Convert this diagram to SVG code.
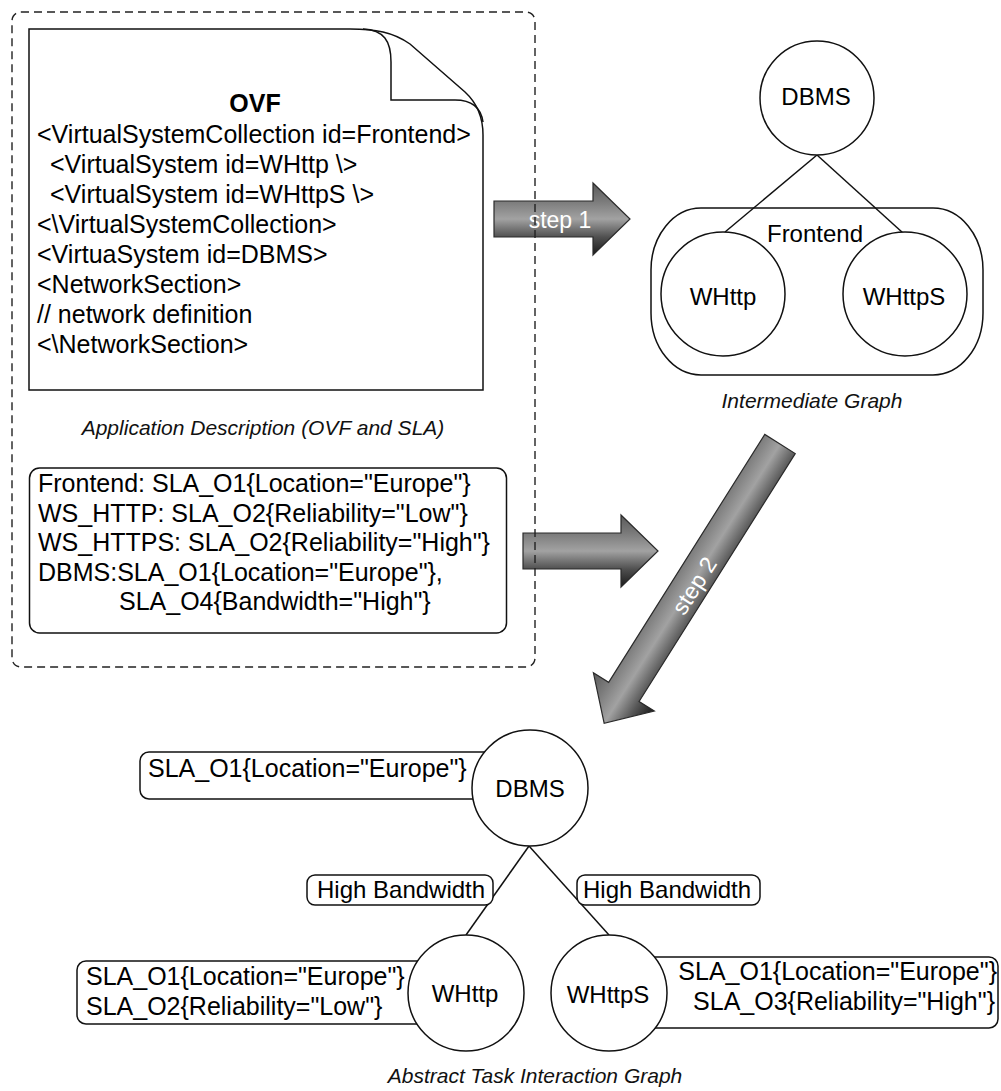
<svg xmlns="http://www.w3.org/2000/svg" width="1001" height="1091" viewBox="0 0 1001 1091">
  <style>
    text { font-family: "Liberation Sans", Arial, Helvetica, sans-serif; fill: #000; }
    .t25 { font-size: 25px; }
    .t24 { font-size: 24px; }
    .mid { text-anchor: middle; }
    .cap { font-size: 21px; font-style: italic; text-anchor: middle; fill: #111; }
    .shape { fill: #fff; stroke: #111; stroke-width: 1.5; }
    .edge { fill: none; stroke: #111; stroke-width: 1.5; }
    .frame { fill: none; stroke: #222; stroke-width: 1.4; stroke-dasharray: 8 5; }
    .step { fill: url(#steel); stroke: #2a2a2a; stroke-width: 1.2; }
    .step.flip { fill: url(#steel-flip); }
    .steplabel { font-size: 23px; fill: #fff; text-anchor: middle; }
  </style>
  <defs>
    <linearGradient id="steel" x1="0" y1="0" x2="0" y2="1">
      <stop offset="0" stop-color="#5a5a5a"/>
      <stop offset="0.25" stop-color="#7a7a7a"/>
      <stop offset="0.5" stop-color="#a2a2a2"/>
      <stop offset="0.75" stop-color="#505050"/>
      <stop offset="1" stop-color="#1a1a1a"/>
    </linearGradient>
    <!-- same shading, mirrored across the arrow axis -->
    <linearGradient id="steel-flip" x1="0" y1="1" x2="0" y2="0">
      <stop offset="0" stop-color="#5a5a5a"/>
      <stop offset="0.25" stop-color="#7c7c7c"/>
      <stop offset="0.5" stop-color="#a2a2a2"/>
      <stop offset="0.75" stop-color="#585858"/>
      <stop offset="1" stop-color="#1a1a1a"/>
    </linearGradient>
  </defs>

  <rect width="1001" height="1091" fill="#fff"/>

  <!-- transformation arrows -->
  <g id="steps">
    <g id="step1" transform="translate(494,219)">
      <path class="step" d="M0,-18 H99 V-36 L136,0 L99,36 V18 H0 Z"/>
      <text class="steplabel" x="66" y="9">step 1</text>
    </g>
    <g id="sla-arrow" transform="translate(523,551)">
      <path class="step" d="M0,-18 H98 V-36 L135,0 L98,36 V18 H0 Z"/>
    </g>
    <g id="step2">
      <path class="step flip" transform="translate(780,444) rotate(122.2)" d="M0,-18 H293 V-36 L330,0 L293,36 V18 H0 Z"/>
      <text class="steplabel" transform="translate(701,590) rotate(-57.8)" x="0" y="0">step 2</text>
    </g>
  </g>

  <!-- application description frame -->
  <g id="app-description">
    <rect class="frame" x="12" y="12" width="523" height="655" rx="9"/>

    <g id="ovf-doc">
      <path class="shape" d="M29,29 H350 C375,29 393,32 410,44 L465,92 C478,104 483,118 483,135 V390 H29 Z"/>
      <path class="edge" d="M363,29 C384,30 391,41 391,62 V100 H455 C472,100 481,108 483,122"/>
      <text class="t25 mid" x="255" y="112" font-weight="bold">OVF</text>
      <text class="t25" x="37" y="143">&lt;VirtualSystemCollection id=Frontend&gt;</text>
      <text class="t25" x="50" y="173">&lt;VirtualSystem id=WHttp \&gt;</text>
      <text class="t25" x="50" y="203">&lt;VirtualSystem id=WHttpS \&gt;</text>
      <text class="t25" x="37" y="233">&lt;\VirtualSystemCollection&gt;</text>
      <text class="t25" x="37" y="263">&lt;VirtuaSystem id=DBMS&gt;</text>
      <text class="t25" x="37" y="293">&lt;NetworkSection&gt;</text>
      <text class="t25" x="37" y="323">// network definition</text>
      <text class="t25" x="37" y="353">&lt;\NetworkSection&gt;</text>
    </g>

    <text class="cap" x="263" y="435">Application Description (OVF and SLA)</text>

    <g id="sla-spec">
      <rect class="shape" x="29.5" y="468" width="477" height="165" rx="10"/>
      <text class="t25" x="38" y="492">Frontend: SLA_O1{Location="Europe"}</text>
      <text class="t25" x="38" y="521.5">WS_HTTP: SLA_O2{Reliability="Low"}</text>
      <text class="t25" x="38" y="551">WS_HTTPS: SLA_O2{Reliability="High"}</text>
      <text class="t25" x="38" y="580.5">DBMS:SLA_O1{Location="Europe"},</text>
      <text class="t25" x="119" y="610">SLA_O4{Bandwidth="High"}</text>
    </g>
  </g>

  <!-- intermediate graph -->
  <g id="frontend-group">
    <rect class="shape" x="651" y="208" width="332" height="167" rx="50" ry="62"/>
    <text class="t24 mid" x="815" y="242">Frontend</text>
  </g>

  <g id="edges">
    <line class="edge" x1="817" y1="155" x2="725" y2="232"/>
    <line class="edge" x1="817" y1="155" x2="903" y2="233"/>
    <line class="edge" x1="529" y1="846" x2="466" y2="935"/>
    <line class="edge" x1="529" y1="846" x2="609" y2="935"/>
  </g>

  <g id="ig-dbms">
    <circle class="shape" cx="817" cy="98" r="57"/>
    <text class="t24 mid" x="816" y="105">DBMS</text>
  </g>
  <g id="ig-whttp">
    <circle class="shape" cx="723" cy="294" r="62"/>
    <text class="t24 mid" x="723" y="305">WHttp</text>
  </g>
  <g id="ig-whttps">
    <circle class="shape" cx="905" cy="294" r="62"/>
    <text class="t24 mid" x="904" y="305">WHttpS</text>
  </g>

  <text class="cap" x="812" y="408" font-size="22">Intermediate Graph</text>

  <!-- abstract task interaction graph -->
  <g id="atig-dbms">
    <rect class="shape" x="140" y="752" width="370" height="47" rx="9"/>
    <text class="t25" x="148" y="777">SLA_O1{Location="Europe"}</text>
    <circle class="shape" cx="530" cy="788" r="58"/>
    <text class="t24 mid" x="530" y="797">DBMS</text>
  </g>

  <g id="bw-left">
    <rect class="shape" x="307" y="875" width="186" height="30" rx="8"/>
    <text class="t24" x="317" y="898">High Bandwidth</text>
  </g>
  <g id="bw-right">
    <rect class="shape" x="577" y="875" width="183" height="30" rx="8"/>
    <text class="t24" x="583" y="898">High Bandwidth</text>
  </g>

  <g id="atig-whttp">
    <rect class="shape" x="77" y="961" width="385" height="63" rx="9"/>
    <text class="t25" x="86" y="985">SLA_O1{Location="Europe"}</text>
    <text class="t25" x="86" y="1015">SLA_O2{Reliability="Low"}</text>
    <circle class="shape" cx="466" cy="993" r="58"/>
    <text class="t24 mid" x="465" y="1002">WHttp</text>
  </g>

  <g id="atig-whttps">
    <rect class="shape" x="600" y="957" width="398" height="71" rx="9"/>
    <text class="t25" x="997" y="980" text-anchor="end">SLA_O1{Location="Europe"}</text>
    <text class="t25" x="995" y="1010" text-anchor="end">SLA_O3{Reliability="High"}</text>
    <circle class="shape" cx="609" cy="993" r="58"/>
    <text class="t24 mid" x="608" y="1003">WHttpS</text>
  </g>

  <text class="cap" x="535" y="1083">Abstract Task Interaction Graph</text>
</svg>
